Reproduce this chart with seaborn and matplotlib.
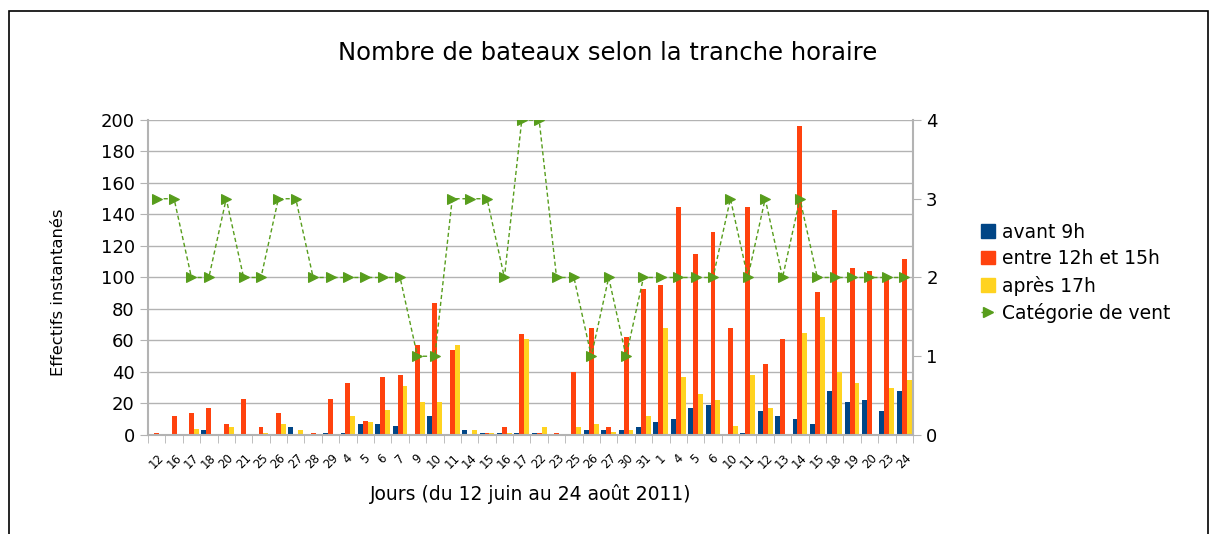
import matplotlib
matplotlib.use("Agg")
import matplotlib.pyplot as plt
import matplotlib.lines as mlines
import matplotlib.patches as mpatches
import numpy as np
import pandas as pd
import seaborn as sns

# Days (12 June to 24 August 2011)
jours = ["12", "16", "17", "18", "20", "21", "25", "26", "27", "28", "29",
         "4", "5", "6", "7", "9", "10", "11", "14", "15", "16", "17", "22",
         "23", "25", "26", "27", "30", "31", "1", "4", "5", "6", "10", "11",
         "12", "13", "14", "15", "18", "19", "20", "23", "24"]

avant_9h = [0, 0, 0, 3, 0, 0, 0, 0, 5, 0, 1,
            1, 7, 7, 6, 0, 12, 0, 3, 1, 1, 1, 1,
            0, 0, 3, 3, 3, 5, 8, 10, 17, 19, 0, 1,
            15, 12, 10, 7, 28, 21, 22, 15, 28]

entre_12h_15h = [1, 12, 14, 17, 7, 23, 5, 14, 0, 1, 23,
                 33, 9, 37, 38, 57, 84, 54, 0, 1, 5, 64, 1,
                 1, 40, 68, 5, 62, 93, 95, 145, 115, 129, 68, 145,
                 45, 61, 196, 91, 143, 106, 104, 101, 112]

apres_17h = [0, 0, 4, 0, 5, 0, 1, 7, 3, 0, 0,
             12, 8, 16, 31, 21, 21, 57, 3, 1, 1, 61, 5,
             0, 5, 7, 2, 3, 12, 68, 37, 26, 22, 6, 38,
             17, 0, 65, 75, 40, 33, 0, 30, 35]

categorie_vent = [3, 3, 2, 2, 3, 2, 2, 3, 3, 2, 2,
                  2, 2, 2, 2, 1, 1, 3, 3, 3, 2, 4, 4,
                  2, 2, 1, 2, 1, 2, 2, 2, 2, 2, 3, 2,
                  3, 2, 3, 2, 2, 2, 2, 2, 2]

series_names = ["avant 9h", "entre 12h et 15h", "après 17h"]
colors = ["#004586", "#ff420e", "#ffd320"]
wind_color = "#579d1c"
grid_color = "#b3b3b3"

n = len(jours)
positions = [str(i) for i in range(n)]

data = pd.DataFrame({
    "pos": positions * 3,
    "tranche": np.repeat(series_names, n),
    "effectif": avant_9h + entre_12h_15h + apres_17h,
})

plt.rcParams["font.family"] = ["DejaVu Sans"]

figure = plt.figure(figsize=(12.15, 5.34), dpi=100)
ax = figure.add_axes([0.1218, 0.1854, 0.6296, 0.5899])

sns.barplot(data=data, x="pos", y="effectif", hue="tranche",
            order=positions, hue_order=series_names, palette=colors,
            width=0.85, gap=0, saturation=1, ax=ax, legend=False)

ax.set_xlim(-0.5, n - 0.5)
ax.set_ylim(0, 200)
ax.set_yticks(range(0, 201, 20))
ax.yaxis.grid(True, color=grid_color, linewidth=1)
ax.set_axisbelow(True)
ax.tick_params(axis="y", labelsize=13, color=grid_color, length=6)
ax.set_xticks(range(n))
ax.set_xticklabels(jours, rotation=45, fontsize=8.5, ha="center")
ax.set_xticks(np.arange(-0.5, n, 1), minor=True)
ax.tick_params(axis="x", which="major", length=0, pad=12)
ax.tick_params(axis="x", which="minor", length=6, color=grid_color)
for side in ["left", "bottom", "right"]:
    ax.spines[side].set_color(grid_color)
    ax.spines[side].set_linewidth(1.5)
ax.spines["top"].set_visible(False)
ax.set_xlabel("Jours (du 12 juin au 24 août 2011)", fontsize=13.5,
              labelpad=9)
ax.set_ylabel("Effectifs instantanés", fontsize=11.8)
ax.yaxis.set_label_coords(-0.107, 0.454)

# Wind category on the secondary axis
ax2 = ax.twinx()
sns.lineplot(x=np.arange(n), y=categorie_vent, ax=ax2, color=wind_color,
             linestyle=(0, (3, 2)), linewidth=1, marker=">", markersize=6.5,
             markeredgecolor=wind_color)
ax2.set_xlim(-0.5, n - 0.5)
ax2.set_ylim(0, 4)
ax2.set_yticks(range(0, 5))
ax2.tick_params(axis="y", labelsize=13, color=grid_color, length=6)
for side in ["left", "bottom", "right", "top"]:
    ax2.spines[side].set_visible(False)

figure.suptitle("Nombre de bateaux selon la tranche horaire",
                fontsize=17.5, y=0.90, va="center")

handles = [mpatches.Patch(color=c, label=l)
           for c, l in zip(colors, series_names)]
handles.append(mlines.Line2D([], [], color=wind_color, linestyle=(0, (3, 2)),
                             linewidth=1, marker=">", markersize=6.5,
                             label="Catégorie de vent"))
figure.legend(handles=handles, loc="center left",
              bbox_to_anchor=(0.800, 0.489), frameon=False, fontsize=13.5,
              borderpad=0, handlelength=0.75, handleheight=0.75,
              handletextpad=0.35, labelspacing=0.4)

# outer frame
frame = mpatches.Rectangle((0.007, -0.02), 0.987, 1.0,
                           transform=figure.transFigure, fill=False,
                           edgecolor="black", linewidth=1.2)
figure.patches.append(frame)

plt.savefig("out.png", dpi=100)
